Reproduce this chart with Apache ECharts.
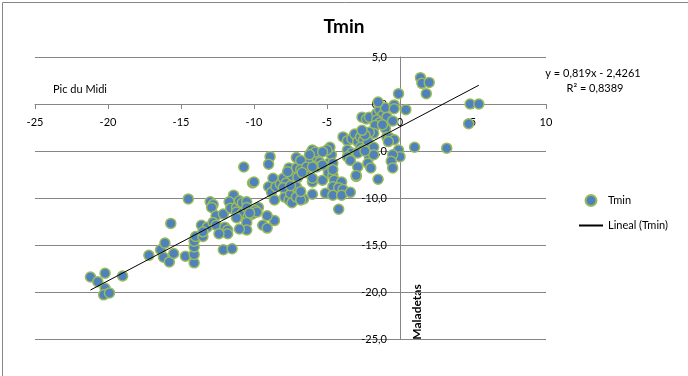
<!DOCTYPE html>
<html>
<head>
<meta charset="utf-8">
<title>Tmin</title>
<script src="https://cdn.jsdelivr.net/npm/echarts@6/dist/echarts.min.js"></script>
<style>
	html, body { margin: 0; padding: 0; background: #fff; }
	#tminChart { width: 688px; height: 376px; }
</style>
</head>
<body>
<div id="tminChart"></div>
<script>
// Tmin: Pic du Midi (x) contra Maladetas (y)
var picDuMidi = [
	-21.2, -20.7, -20.2, -20.2, -20.3, -19.9, -19.0, -17.2, -16.4, -16.1,
	-16.2, -15.8, -15.5, -15.7, -14.7, -14.1, -14.1, -14.1, -14.1, -14.0,
	-13.5, -13.6, -13.2, -13.5, -14.5, -13.0, -12.8, -12.9, -12.6, -12.8,
	-12.6, -12.1, -12.0, -11.8, -11.8, -12.4, -12.1, -11.5, -11.4, -11.7,
	-11.6, -11.2, -11.2, -11.1, -10.8, -10.4, -10.5, -10.5, -11.0, -11.2,
	-11.0, -10.8, -10.5, -10.5, -10.7, -10.1, -10.0, -8.9, -9.0, -8.7,
	-9.0, -8.8, -8.6, -8.6, -9.4, -9.1, -9.1, -9.7, -9.9, -10.1,
	-9.8, -10.3, -8.5, -8.2, -8.0, -7.8, -7.9, -7.6, -7.4, -7.5,
	-7.0, -7.1, -7.6, -7.4, -7.1, -7.1, -6.4, -6.5, -6.3, -6.6,
	-6.8, -6.1, -6.0, -5.7, -5.6, -5.8, -6.2, -6.8, -6.8, -6.4,
	-5.5, -5.7, -6.0, -6.0, -5.3, -4.8, -4.7, -4.9, -4.6, -4.5,
	-4.0, -4.6, -4.2, -3.9, -7.0, -7.7, -7.1, -6.8, -8.0, -7.5,
	-6.7, -6.0, -6.0, -5.1, -4.6, -4.0, -3.4, -3.0, -4.2, -4.8,
	-5.0, -5.3, -5.3, -4.6, -4.6, -3.9, -3.6, -3.3, -3.1, -2.9,
	-2.7, -2.5, -2.7, -2.6, -2.3, -2.2, -1.8, -3.6, -3.3, -2.9,
	-3.6, -3.4, -2.1, -1.8, -2.2, -2.0, -2.9, -3.0, -1.5, -2.6,
	-2.3, -2.1, -1.6, -1.4, -1.2, -1.0, -0.9, -1.6, -1.4, -1.7,
	-1.8, -2.1, -2.4, -2.6, -1.0, -0.9, -1.5, -0.4, -0.4, 0.4,
	-1.2, -0.7, -0.4, -0.8, -0.5, -0.1, -2.4, -0.1, 0.0, -0.5,
	-0.6, -0.5, 1.0, 3.2, 4.7, 4.8, 5.4, 1.4, 1.5, 2.0,
	1.8
];
var maladetas = [
	-18.4, -18.9, -18.0, -19.6, -20.3, -20.1, -18.3, -16.1, -15.5, -14.8,
	-16.3, -16.8, -15.9, -12.7, -16.2, -16.9, -16.0, -15.2, -14.6, -14.1,
	-14.1, -12.9, -13.1, -13.6, -10.1, -10.4, -10.7, -11.0, -11.9, -12.6,
	-12.9, -11.7, -13.1, -13.4, -13.8, -13.8, -15.5, -15.4, -9.7, -10.4,
	-11.1, -11.0, -11.5, -12.0, -11.6, -12.0, -12.6, -13.4, -13.3, -12.1,
	-10.3, -10.5, -10.4, -11.0, -6.7, -8.4, -8.3, -5.6, -6.4, -7.9,
	-8.8, -9.4, -10.2, -12.4, -12.9, -13.2, -11.9, -11.0, -11.3, -11.7,
	-11.5, -11.6, -8.8, -8.5, -7.9, -8.4, -9.9, -10.2, -10.5, -9.5,
	-9.1, -9.9, -6.8, -7.6, -6.8, -5.7, -6.3, -7.3, -6.0, -10.1,
	-10.2, -5.2, -4.9, -5.7, -6.5, -5.1, -5.4, -6.0, -7.0, -6.7,
	-6.2, -6.7, -6.7, -8.3, -8.1, -6.2, -5.4, -7.3, -7.6, -8.1,
	-8.3, -8.8, -8.9, -9.1, -7.8, -7.2, -8.8, -9.3, -8.9, -8.7,
	-7.3, -7.9, -9.6, -9.5, -9.7, -9.7, -9.4, -7.7, -11.2, -4.6,
	-4.9, -5.1, -6.5, -6.3, -7.0, -3.5, -3.9, -3.7, -3.2, -4.0,
	-3.5, -3.8, -4.6, -4.9, -4.6, -4.0, -4.6, -4.9, -5.2, -5.2,
	-5.6, -6.0, -5.6, -5.4, -6.3, -6.8, -6.7, -7.6, -8.0, -1.4,
	-1.6, -1.4, -1.0, -0.6, -1.2, -0.4, -1.4, -1.7, -2.0, -2.3,
	-3.1, -3.0, -3.3, -2.8, -2.6, -3.5, 0.2, -0.1, -0.5, -0.6,
	-2.2, -3.6, -3.8, -4.0, -1.8, 1.1, -5.0, -4.9, -5.6, -5.4,
	-6.1, -6.8, -4.6, -4.7, -2.1, 0.0, 0.0, 2.8, 2.2, 2.3,
	1.1
];
// linea de tendencia (Excel)
var trendSlope = 0.819;
var trendIntercept = -2.4261;
var trendText = ["y = 0,819x - 2,4261", "R\u00b2 = 0,8389"];
var xTicks = { min: -25, max: 10, step: 5 };
var yTicks = { min: -25, max: 5, step: 5 };

var gridColor = "#868686";
var fontName = "Lato";
var gridBox = { left: 35, right: 142, top: 57, bottom: 37, width: 688, height: 376 };

function showTminChart(){
	var chart = echarts.init(document.getElementById("tminChart"));
	var points = [];
	for(var i=0;i<picDuMidi.length;i++){
		points.push([picDuMidi[i], maladetas[i]]);
	}
	var xLo = Math.min.apply(null, picDuMidi);
	var xHi = Math.max.apply(null, picDuMidi);
	var trend = [
		[xLo, trendSlope*xLo + trendIntercept],
		[xHi, trendSlope*xHi + trendIntercept]
	];
	// los ejes cruzan en el cero, con las etiquetas pegadas al eje (como Excel)
	var plotW = gridBox.width - gridBox.left - gridBox.right;
	var plotH = gridBox.height - gridBox.top - gridBox.bottom;
	var xAxisOffset = -plotH * (0 - yTicks.min) / (yTicks.max - yTicks.min);
	var yAxisOffset = -plotW * (0 - xTicks.min) / (xTicks.max - xTicks.min);
	var option = {
		animation: false,
		textStyle: { fontFamily: fontName },
		title: {
			text: "Tmin",
			left: "center",
			top: 12,
			textStyle: { fontSize: 19, fontWeight: "bold", color: "#000", fontFamily: fontName }
		},
		legend: {
			orient: "vertical",
			left: 573,
			top: 189,
			itemWidth: 24,
			itemHeight: 11,
			itemGap: 13,
			textStyle: { fontSize: 11, color: "#000", fontFamily: fontName },
			data: [
				{ name: "Tmin", icon: "circle" },
				{ name: "Lineal (Tmin)", itemStyle: { opacity: 0 } }
			]
		},
		grid: {
			left: gridBox.left,
			right: gridBox.right,
			top: gridBox.top,
			bottom: gridBox.bottom,
			containLabel: false
		},
		xAxis: {
			type: "value",
			position: "bottom",
			offset: xAxisOffset,
			min: xTicks.min,
			max: xTicks.max,
			interval: xTicks.step,
			axisLine: { show: true, onZero: false, lineStyle: { color: gridColor } },
			axisTick: { show: true, length: 5, lineStyle: { color: gridColor } },
			axisLabel: { margin: 13, fontSize: 11, color: "#000", fontFamily: fontName },
			splitLine: { show: false }
		},
		yAxis: {
			type: "value",
			position: "left",
			offset: yAxisOffset,
			min: yTicks.min,
			max: yTicks.max,
			interval: yTicks.step,
			axisLine: { show: true, onZero: false, lineStyle: { color: gridColor } },
			axisTick: { show: true, length: 5, lineStyle: { color: gridColor } },
			axisLabel: {
				margin: 13,
				fontSize: 11,
				color: "#000",
				fontFamily: fontName,
				formatter: function(v){ return v.toFixed(1).replace(".", ","); }
			},
			splitLine: { show: true, lineStyle: { color: gridColor, width: 1 } }
		},
		series: [{
			name: "Tmin",
			type: "scatter",
			data: points,
			symbol: "circle",
			symbolSize: 10,
			itemStyle: { color: "#4F81BD", borderColor: "#9BBB59", borderWidth: 1.5, opacity: 1 },
			z: 3
		}, {
			name: "Lineal (Tmin)",
			type: "line",
			data: trend,
			symbol: "none",
			lineStyle: { color: "#000", width: 1 },
			itemStyle: { color: "#000" },
			z: 4
		}],
		graphic: [{
			type: "rect",
			left: 0, top: 0,
			shape: { x: 0.5, y: 0.5, width: 686, height: 374 },
			style: { fill: null, stroke: gridColor, lineWidth: 1 },
			silent: true
		}, {
			type: "text",
			left: 53, top: 84,
			style: { text: "Pic du Midi", font: "11px " + fontName, fill: "#000" }
		}, {
			type: "text",
			x: 417, y: 312,
			rotation: Math.PI/2,
			style: { text: "Maladetas", font: "bold 12px " + fontName, fill: "#000", textAlign: "center", textVerticalAlign: "middle" }
		}, {
			type: "text",
			x: 593, y: 68,
			style: { text: trendText[0], font: "11px " + fontName, fill: "#000", textAlign: "center" }
		}, {
			type: "text",
			x: 595, y: 83,
			style: { text: trendText[1], font: "11px " + fontName, fill: "#000", textAlign: "center" }
		}]
	};
	chart.setOption(option);
}
showTminChart();
</script>
</body>
</html>
